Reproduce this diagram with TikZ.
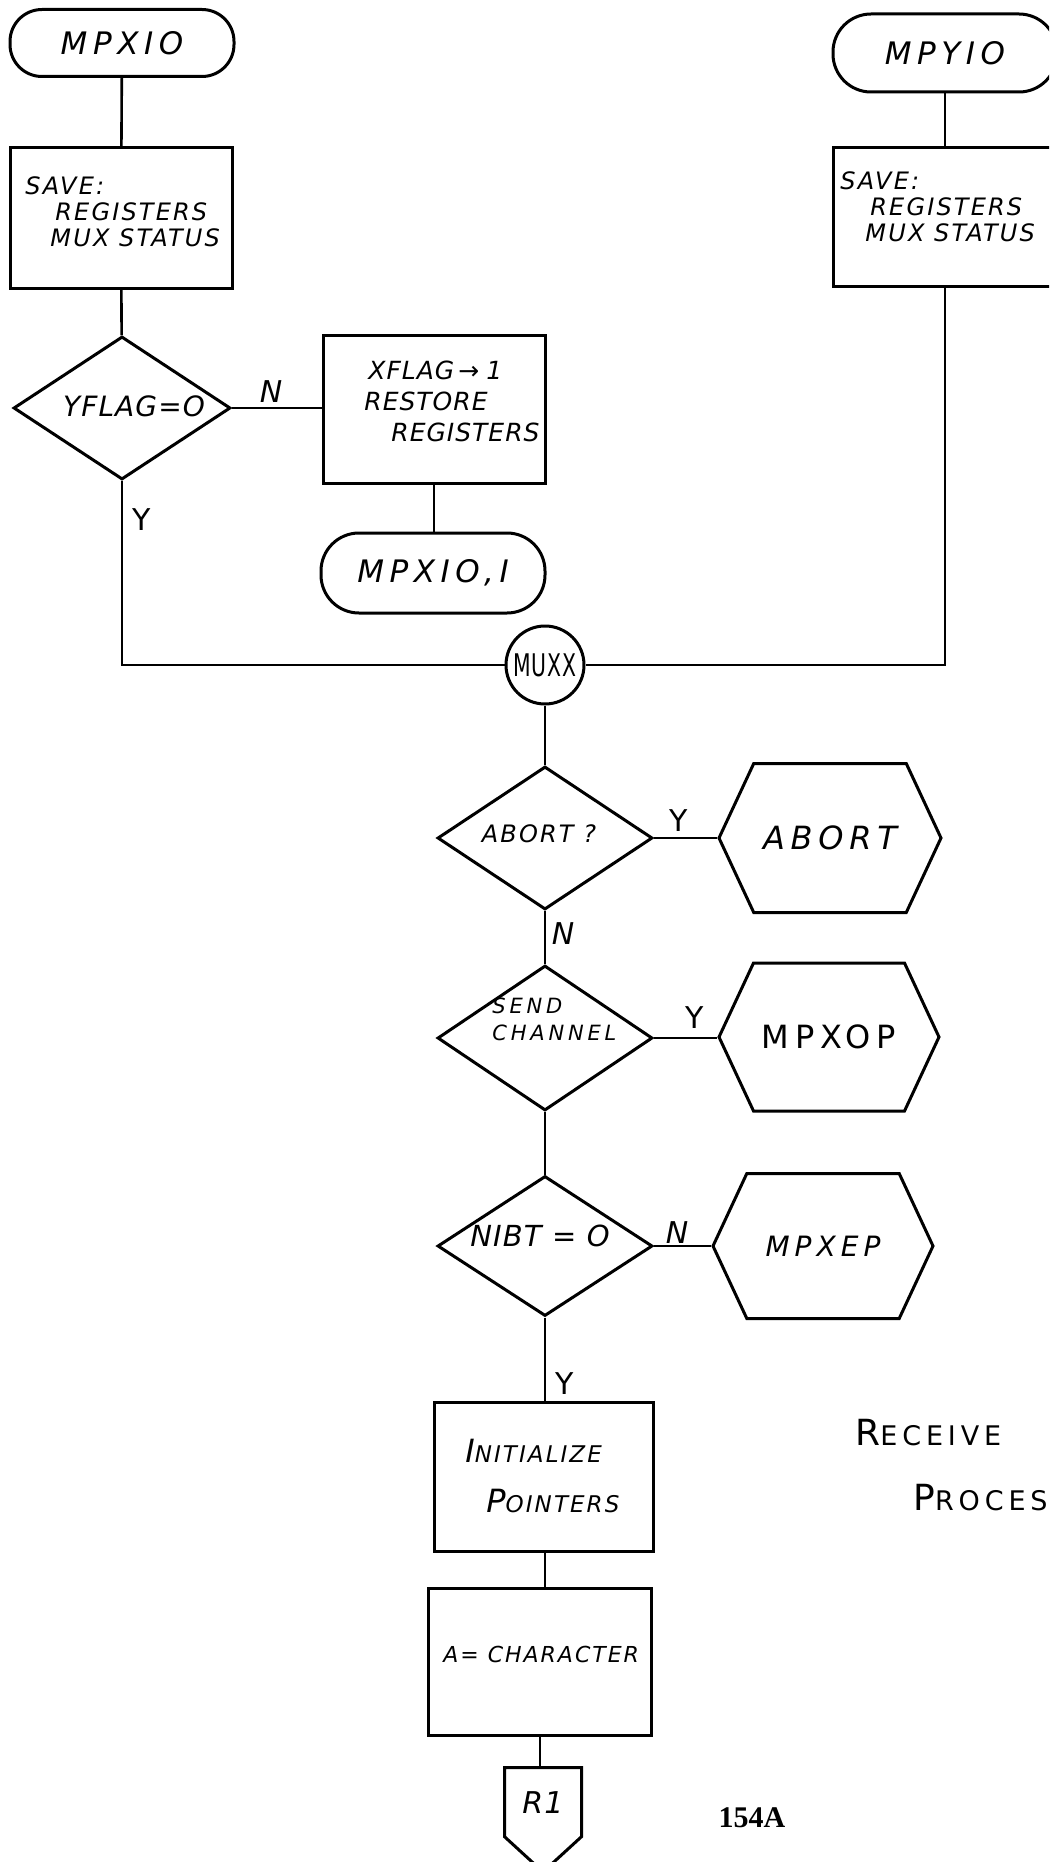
\documentclass[tikz,border=0pt]{standalone}
\usepackage{fontspec}
\setmainfont{DejaVu Sans}
\newfontfamily\handwide{DejaVu Sans}[LetterSpace=18]
\newfontfamily\handmid{DejaVu Sans}[LetterSpace=9]
\newfontfamily\handtight{DejaVu Sans}[LetterSpace=4]
\newfontfamily\stampfont{Liberation Serif}
\usetikzlibrary{shapes.geometric,shapes.symbols}

\newcommand\fsz[1]{\fontsize{#1}{#1}\selectfont}

\tikzset{
  ink/.style={draw=black, line width=1.5pt},
  wire/.style={draw=black, line width=1.3pt},
  term/.style={ink, rectangle, inner sep=0pt, font=\handwide\itshape\fsz{15.5}},
  procbox/.style={ink, rectangle, inner sep=0pt},
  decision/.style={ink, diamond, aspect=1.5, inner sep=0pt},
  exitbox/.style={ink, signal, signal to=east and west, signal pointer angle=130, inner sep=0pt},
  joint/.style={ink, circle, inner sep=0pt, minimum size=39pt},
  pagelink/.style={ink, signal, signal to=south, signal pointer angle=95, inner sep=0pt},
  boxtext/.style={inner sep=0pt, align=left, font=\handmid\itshape\fsz{12}},
  flag/.style={inner sep=0pt, font=\handtight\fsz{15}},
}

\begin{document}
\begin{tikzpicture}[x=0.5pt,y=-0.5pt]
\useasboundingbox (0,0) rectangle (1049,1862);
\clip (0,0) rectangle (1049,1862);

% ---- left entry: MPXIO ----
\node[term, minimum width=112pt, minimum height=33.5pt, rounded corners=16pt] (mpxio) at (122,43) {MPXIO};
\node[procbox, minimum width=111pt, minimum height=70.5pt] (save1) at (121,218) {};
\node[boxtext, anchor=west] (save1txt) at (25,212)
  {SAVE:\\[1pt]\hspace*{15pt}REGISTERS\\[1pt]\hspace*{12.5pt}MUX STATUS};
\node[decision, minimum width=108.5pt, minimum height=71.5pt] (yflag) at (122,408) {};
\node[flag, font=\handtight\itshape\fsz{14}] (yflagtxt) at (134,406) {YFLAG=O};

% ---- XFLAG branch ----
\node[procbox, minimum width=111pt, minimum height=74pt] (xflag) at (434,409) {};
\node[boxtext, anchor=west, font=\handtight\itshape\fsz{12.5}] (xflagtxt) at (364,401)
  {\hspace*{2pt}XFLAG\,→\;1\\[3pt]RESTORE\\[3pt]\hspace*{13.5pt}REGISTERS};
\node[term, minimum width=112pt, minimum height=40pt, rounded corners=19pt] (mpxioi) at (433,573) {MPXIO,I};

% ---- right entry: MPYIO ----
\node[term, minimum width=112pt, minimum height=39pt, rounded corners=19pt] (mpyio) at (945,53) {MPYIO};
\node[procbox, minimum width=112pt, minimum height=69.5pt] (save2) at (945,217) {};
\node[boxtext, anchor=west] (save2txt) at (840,207)
  {SAVE:\\[1pt]\hspace*{15pt}REGISTERS\\[1pt]\hspace*{12.5pt}MUX STATUS};

% ---- common entry ----
\node[joint] (muxx) at (545,665) {\handtight\fsz{12}\scalebox{0.85}[1.3]{MUXX}};

% ---- tests ----
\node[decision, minimum width=107.5pt, minimum height=71.5pt] (abort) at (545,838) {};
\node[flag, font=\handmid\itshape\fsz{12}] (aborttxt) at (539,834) {ABORT ?};
\node[exitbox, minimum width=111pt, minimum height=74.5pt, font=\handwide\itshape\fsz{16}] (abortx) at (830,838) {ABORT};

\node[decision, minimum width=107.5pt, minimum height=72.5pt] (send) at (545,1038) {};
\node[boxtext, anchor=west, font=\handwide\itshape\fsz{10.5}] (sendtxt) at (492,1019) {SEND\\[3pt]CHANNEL};
\node[exitbox, minimum width=110pt, minimum height=74pt, font=\handwide\fsz{16}] (mpxop) at (829,1037) {MPXOP};

\node[decision, minimum width=107.5pt, minimum height=70pt] (nibt) at (545,1246) {};
\node[flag, font=\handtight\itshape\fsz{14.5}] (nibttxt) at (540,1236) {NIBT = O};
\node[exitbox, minimum width=110pt, minimum height=72.5pt, font=\handwide\itshape\fsz{14}] (mpxep) at (823,1246) {MPXEP};

% ---- receive path ----
\node[procbox, minimum width=109.5pt, minimum height=74.5pt] (init) at (544,1477) {};
\node[boxtext, anchor=west, font=\handmid\itshape\fsz{11.5}] (inittxt) at (465,1476)
  {{\fsz{16}I}NITIALIZE\\[12pt]\hspace*{10.5pt}{\fsz{16}P}OINTERS};
\node[procbox, minimum width=111.5pt, minimum height=73.5pt] (achar) at (540,1662) {};
\node[boxtext, anchor=west, font=\handmid\itshape\fsz{11}] (achartxt) at (443,1654) {A= CHARACTER};
\node[pagelink, minimum width=38.5pt, minimum height=44pt, anchor=north, font=\handtight\itshape\fsz{15}] (r1) at (543,1766) {R1};

% ---- branch labels ----
\node[flag, font=\handtight\itshape\fsz{15}] (lblN1) at (271,392) {N};
\node[flag] (lblY1) at (142,520) {Y};
\node[flag] (lblY2) at (679,821) {Y};
\node[flag, font=\handtight\itshape\fsz{15}] (lblN2) at (563,934) {N};
\node[flag] (lblY3) at (695,1018) {Y};
\node[flag, font=\handtight\itshape\fsz{15}] (lblN3) at (677,1233) {N};
\node[flag] (lblY4) at (565,1384) {Y};

% ---- captions ----
\node[inner sep=0pt, anchor=west, font=\handwide\fsz{13.5}] (capA) at (855,1433) {{\fsz{18}R}ECEIVE};
\node[inner sep=0pt, anchor=west, font=\handwide\fsz{13.5}] (capB) at (913,1498) {{\fsz{18}P}ROCES};
\node[inner sep=0pt, font=\stampfont\bfseries\fsz{15}] (pageno) at (752,1818) {154A};

% ---- connectors ----
\draw[wire] (mpxio) -- (save1);
\draw[wire] (save1) -- (yflag);
\draw[wire] (yflag.east) -- (yflag.east -| xflag.west);
\draw[wire] (xflag.south) -- (xflag.south |- mpxioi.north);
\draw[wire] (yflag.south) |- (muxx.west);
\draw[wire] (mpyio) -- (save2);
\draw[wire] (save2.south) |- (muxx.east);
\draw[wire] (muxx) -- (abort);
\draw[wire] (abort.east) -- (abortx.west);
\draw[wire] (abort) -- (send);
\draw[wire] (send.east) -- (send.east -| mpxop.west);
\draw[wire] (send) -- (nibt);
\draw[wire] (nibt.east) -- (nibt.east -| mpxep.west);
\draw[wire] (nibt.south) -- (nibt.south |- init.north);
\draw[wire] (nibt.south |- init.south) -- (nibt.south |- achar.north);
\draw[wire] (achar.south) -- (achar.south |- r1.north);
\end{tikzpicture}
\end{document}
